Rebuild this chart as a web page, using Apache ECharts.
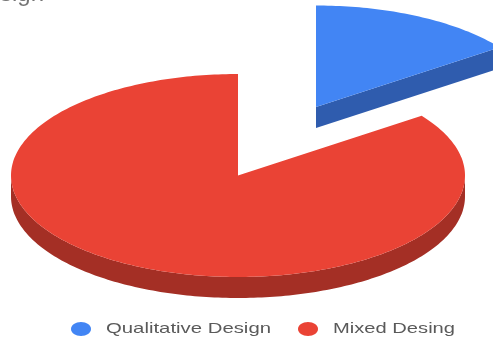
<!DOCTYPE html>
<html>
<head>
<meta charset="utf-8">
<style>html,body{margin:0;padding:0;background:#fff}#c{width:493px;height:342px}</style>
<script src="https://cdn.jsdelivr.net/npm/echarts@6/dist/echarts.min.js"></script>
</head>
<body>
<div id="c"></div>
<script>
// Study designs, share of each slice
const sliceNames = ['Qualitative Design', 'Mixed Desing'];
const sliceValues = [15, 85];
const topColors = ['#4285f4', '#ea4335'];
const wallColors = ['#2f5cae', '#a42f25'];
const chartTitle = 'Research Design';

// Tilted disc geometry, in pixels
const center = [238, 175.5];
const radiusX = 227;
const radiusY = 101.5;
const depth = 21;
const explode = [[78, -68.5], [0, 0]];

const total = sliceValues.reduce((a, b) => a + b, 0);

// Angle is measured clockwise from twelve o'clock, in degrees
function rimPoint(deg, off, drop) {
  const r = deg * Math.PI / 180;
  return [
    center[0] + off[0] + radiusX * Math.sin(r),
    center[1] + off[1] + drop - radiusY * Math.cos(r)
  ];
}
function arc(from, to, off, drop) {
  const pts = [];
  const steps = Math.max(2, Math.ceil(Math.abs(to - from)));
  for (let i = 0; i <= steps; i++) pts.push(rimPoint(from + (to - from) * i / steps, off, drop));
  return pts;
}

function slicePieces(index) {
  let start = 0;
  for (let i = 0; i < index; i++) start += sliceValues[i] / total * 360;
  const end = start + sliceValues[index] / total * 360;
  const off = explode[index];
  const apex = [center[0] + off[0], center[1] + off[1]];
  const apexLow = [apex[0], apex[1] + depth];
  const pieces = [];

  // Outer wall, only where the rim faces the viewer (90deg to 270deg)
  const wallFrom = Math.max(start, 90);
  const wallTo = Math.min(end, 270);
  if (wallTo > wallFrom) {
    pieces.push({
      type: 'polygon',
      shape: { points: arc(wallFrom, wallTo, off, 0).concat(arc(wallTo, wallFrom, off, depth)) },
      style: { fill: wallColors[index] }
    });
  }
  // Cut faces that turn toward the viewer
  [[start, -1], [end, 1]].forEach(([deg, side]) => {
    if (side * Math.sin(deg * Math.PI / 180) > 1e-6) {
      const e = rimPoint(deg, off, 0);
      pieces.push({
        type: 'polygon',
        shape: { points: [apex, e, [e[0], e[1] + depth], apexLow] },
        style: { fill: wallColors[index] }
      });
    }
  });
  // Top face
  pieces.push({
    type: 'polygon',
    shape: { points: [apex].concat(arc(start, end, off, 0)) },
    style: { fill: topColors[index] }
  });
  return { type: 'group', children: pieces };
}

// Legend row drawn as stretched text beside oval markers
const legendRow = [
  { markerX: 81, textX: 106, width: 165 },
  { markerX: 308, textX: 333, width: 122 }
];
const measure = document.createElement('canvas').getContext('2d');
measure.font = '15px "Liberation Sans"';
const legendGraphics = [];
sliceNames.forEach((name, i) => {
  const row = legendRow[i];
  legendGraphics.push({
    type: 'ellipse', shape: { cx: row.markerX, cy: 329, rx: 10, ry: 7 },
    style: { fill: topColors[i] }
  });
  legendGraphics.push({
    type: 'text', x: row.textX, y: 328.5,
    scaleX: row.width / measure.measureText(name).width,
    style: {
      text: name, fill: '#5a5a5a', font: '15px "Liberation Sans"',
      textAlign: 'left', textVerticalAlign: 'middle'
    }
  });
});

const chart = echarts.init(document.getElementById('c'), null, { renderer: 'canvas' });
chart.setOption({
  animation: false,
  backgroundColor: '#ffffff',
  title: {
    text: chartTitle,
    right: 449,
    top: -18,
    padding: 0,
    textStyle: { color: '#757575', fontFamily: 'Liberation Sans', fontSize: 24, fontWeight: 'normal' }
  },
  series: sliceValues.map((v, i) => ({
    type: 'custom',
    name: sliceNames[i],
    coordinateSystem: 'none',
    data: [v],
    silent: true,
    renderItem: () => slicePieces(i)
  })),
  graphic: legendGraphics
});
</script>
</body>
</html>
